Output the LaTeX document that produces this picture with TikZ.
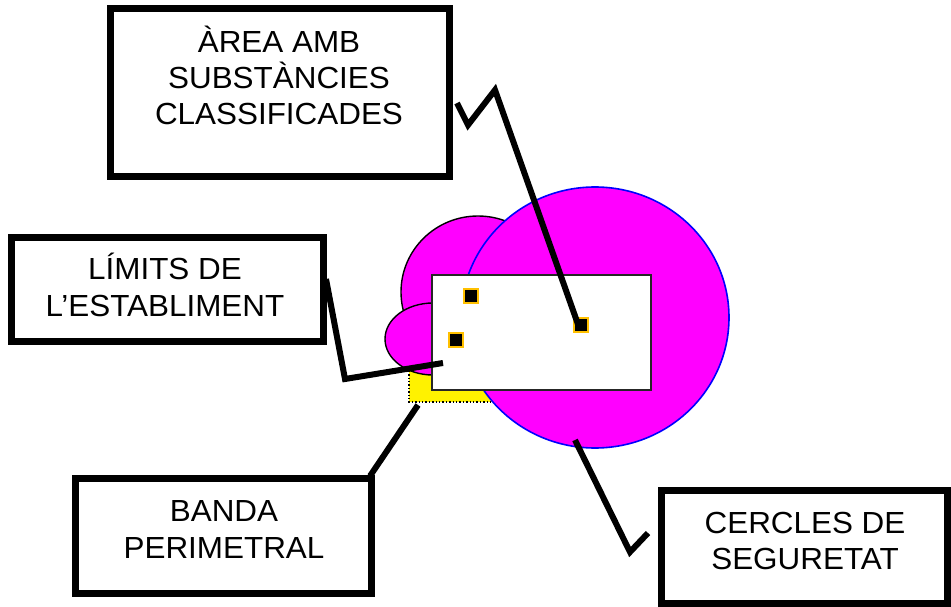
\documentclass[tikz,border=0pt]{standalone}
\usepackage{fontspec}
\setmainfont{Liberation Sans}[FakeStretch=1.03]
\definecolor{mag}{HTML}{FF00FF}
\definecolor{ora}{HTML}{FFC000}
\begin{document}
\begin{tikzpicture}[x=1pt,y=-1pt,
  box/.style={draw=black, line width=7pt, fill=white, inner sep=0pt},
  lbl/.style={font=\fontsize{30.5}{36}\selectfont, inner sep=0pt, anchor=base},
  conn/.style={line width=6pt, black},
  site/.style={draw=ora, fill=black, line width=2pt, minimum size=14pt, inner sep=0pt},
  blob/.style={fill=mag, draw=black, line width=1.4pt}]
\useasboundingbox (0,0) rectangle (951,607);
% perimeter band
\draw[fill=yellow, draw=black, dotted, line width=1.4pt] (409,330) rectangle (560,402);
% cloud of zones
\draw[blob] (478,292) ellipse [x radius=77, y radius=76];
\draw[blob] (433,339) ellipse [x radius=48, y radius=36];
% safety circle
\draw[fill=mag, draw=blue, line width=1.6pt] (595,317.5) ellipse [x radius=134, y radius=130.5];
% establishment
\node[draw=black!85, fill=white, line width=1.4pt, minimum width=219pt, minimum height=115pt, inner sep=0pt] (estab) at (541.5,332.5) {};
% classified substances
\node[site] (s1) at (471,296) {};
\node[site] (s2) at (456,339.5) {};
\node[site] (s3) at (581,325) {};
% boxes
\node[box, minimum width=339pt, minimum height=168pt] (area) at (280,92.5) {};
\node[box, minimum width=312pt, minimum height=104pt] (limits) at (167.5,289.5) {};
\node[box, minimum width=296pt, minimum height=115pt] (banda) at (223.5,536) {};
\node[box, minimum width=286pt, minimum height=113pt] (cercles) at (804.5,547) {};
% connector ends
\coordinate (c1a) at (457,103);
\coordinate (c1b) at (580,330);
\coordinate (c2a) at (326,279);
\coordinate (c2b) at (443,363);
\coordinate (c3a) at (370,476);
\coordinate (c3b) at (418,405);
\coordinate (c4a) at (575,440);
\coordinate (c4b) at (648,533);
\draw[conn] (c1a) -- (468,125) -- (495,90) -- (c1b);
\draw[conn] (c2a) -- (345,379) -- (c2b);
\draw[conn] (c3a) -- (c3b);
\draw[conn] (c4a) -- (630,552) -- (c4b);
% texts
\node[lbl] (t1a) at (279,53) {ÀREA AMB};
\node[lbl] (t1b) at (279,89) {SUBSTÀNCIES};
\node[lbl] (t1c) at (279,125) {CLASSIFICADES};
\node[lbl] (t2a) at (165,279) {LÍMITS DE};
\node[lbl] (t2b) at (165,316) {L’ESTABLIMENT};
\node[lbl] (t3a) at (224,521) {BANDA};
\node[lbl] (t3b) at (224,558) {PERIMETRAL};
\node[lbl] (t4a) at (805,533) {CERCLES DE};
\node[lbl] (t4b) at (805,569) {SEGURETAT};
\end{tikzpicture}
\end{document}
